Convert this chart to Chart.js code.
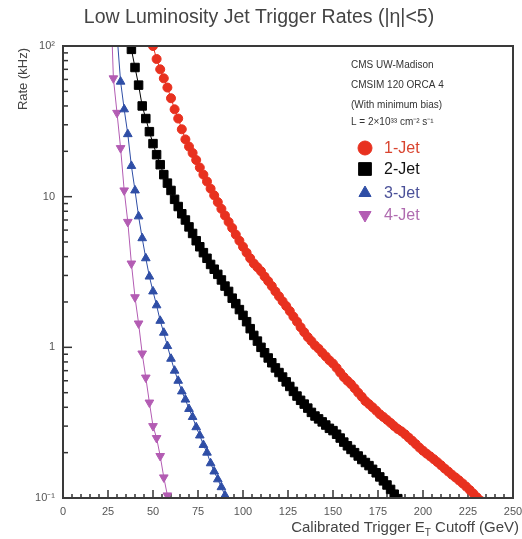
<!DOCTYPE html>
<html><head><meta charset="utf-8">
<script src="https://cdn.jsdelivr.net/npm/chart.js@4.4.1/dist/chart.umd.min.js"></script>
<style>html,body{margin:0;padding:0;background:#fff;}#wrap{width:522px;height:539px;}</style>
</head><body><div id="wrap"><canvas id="c" width="522" height="539"></canvas></div>
<script>
const titleText = 'Low Luminosity Jet Trigger Rates (|\u03B7|<5)';
const yAxisTitle = 'Rate (kHz)';
const xAxisTitleParts = ['Calibrated Trigger E', 'T', ' Cutoff (GeV)'];
const seriesNames = ['1-Jet', '2-Jet', '3-Jet', '4-Jet'];
const infoLines = ['CMS UW-Madison', 'CMSIM 120 ORCA 4', '(With minimum bias)', 'L = 2\u00D710\u00B3\u00B3 cm\u207B\u00B2 s\u207B\u00B9'];
const xTickValues = [0, 25, 50, 75, 100, 125, 150, 175, 200, 225, 250];
const yTickValues = [0.1, 1, 10, 100];
const yTickLabels = ['10\u207B\u00B9', '1', '10', '10\u00B2'];

const jet1Et = [50,52,54,56,58,60,62,64,66,68,70,72,74,76,78,80,82,84,86,88,90,92,94,96,98,100,102,104,106,108,110,112,114,116,118,120,122,124,126,128,130,132,134,136,138,140,142,144,146,148,150,152,154,156,158,160,162,164,166,168,170,172,174,176,178,180,182,184,186,188,190,192,194,196,198,200,202,204,206,208,210,212,214,216,218,220,222,224,226,228,230,232];
const jet1Rate = [100,82,70,61,53,45,38,33,28,24,21.5,19.5,17.5,15.6,14.0,12.6,11.3,10.2,9.2,8.3,7.5,6.8,6.2,5.6,5.1,4.65,4.25,3.9,3.6,3.4,3.2,2.95,2.75,2.55,2.35,2.18,2.02,1.88,1.74,1.6,1.48,1.36,1.26,1.17,1.1,1.03,0.98,0.92,0.87,0.82,0.78,0.73,0.68,0.635,0.60,0.57,0.535,0.50,0.47,0.44,0.42,0.40,0.38,0.36,0.345,0.33,0.315,0.30,0.287,0.277,0.265,0.252,0.24,0.228,0.216,0.206,0.197,0.189,0.181,0.173,0.165,0.157,0.150,0.143,0.137,0.131,0.125,0.119,0.113,0.107,0.101,0.096];

const jet2Et = [36,38,40,42,44,46,48,50,52,54,56,58,60,62,64,66,68,70,72,74,76,78,80,82,84,86,88,90,92,94,96,98,100,102,104,106,108,110,112,114,116,118,120,122,124,126,128,130,132,134,136,138,140,142,144,146,148,150,152,154,156,158,160,162,164,166,168,170,172,174,176,178,180,182,184,186];
const jet2Rate = [135,95,72,55,40,33,27,22.5,19,16.3,14,12.3,11,9.6,8.6,7.7,7.0,6.3,5.7,5.1,4.65,4.25,3.9,3.55,3.3,3.05,2.8,2.55,2.35,2.12,1.95,1.78,1.63,1.48,1.33,1.2,1.1,1.0,0.92,0.85,0.79,0.73,0.68,0.635,0.59,0.55,0.51,0.475,0.445,0.42,0.395,0.37,0.35,0.335,0.32,0.305,0.29,0.28,0.265,0.25,0.235,0.222,0.21,0.2,0.19,0.18,0.172,0.164,0.155,0.147,0.138,0.13,0.122,0.114,0.106,0.099];

const jet3Et = [30,32,34,36,38,40,42,44,46,48,50,52,54,56,58,60,62,64,66,68,70,72,74,76,78,80,82,84,86,88,90,92];
const jet3Rate = [120,58,38,26,16,11,7.4,5.3,3.9,2.95,2.35,1.9,1.5,1.25,1.02,0.84,0.70,0.60,0.51,0.45,0.39,0.345,0.295,0.26,0.225,0.2,0.17,0.15,0.133,0.118,0.104,0.093];

const jet4Et = [26,28,30,32,34,36,38,40,42,44,46,48,50,52,54,56,58];
const jet4Rate = [300,61,36,21,11,6.8,3.6,2.15,1.44,0.91,0.63,0.43,0.30,0.25,0.19,0.137,0.104];

const seriesColors = ['#e8311f', '#000000', '#2f4ea6', '#b35cb3'];
const legendTextColors = ['#d9442f', '#111111', '#4b5199', '#b06cb0'];
const pointStyles = ['circle', 'rect', 'triangle', 'triangle'];
const pointRotations = [0, 0, 0, 180];
const pointRadii = [4.5, 6, 5, 5];

function pts(xs, ys) { return xs.map((x, i) => ({ x: x, y: ys[i] })); }
const seriesData = [pts(jet1Et, jet1Rate), pts(jet2Et, jet2Rate), pts(jet3Et, jet3Rate), pts(jet4Et, jet4Rate)];

const FONT = "'Liberation Sans', Arial, sans-serif";

const decor = {
  id: 'decor',
  beforeDatasetsDraw(chart) {
    const ctx = chart.ctx, xa = chart.scales.x, ya = chart.scales.y;
    const { left, right, top, bottom } = chart.chartArea;
    ctx.save();
    ctx.strokeStyle = '#333';
    ctx.lineWidth = 1.5;
    for (let i = 0; i < yTickValues.length; i++) {
      const d = yTickValues[i];
      const yp = ya.getPixelForValue(d);
      ctx.beginPath(); ctx.moveTo(left, yp); ctx.lineTo(left + 9, yp); ctx.stroke();
      if (i < yTickValues.length - 1) {
        for (let m = 2; m <= 9; m++) {
          const y2 = ya.getPixelForValue(d * m);
          ctx.beginPath(); ctx.moveTo(left, y2); ctx.lineTo(left + 5, y2); ctx.stroke();
        }
      }
    }
    for (let i = 0; i < xTickValues.length; i++) {
      const v = xTickValues[i];
      const xp = xa.getPixelForValue(v);
      ctx.beginPath(); ctx.moveTo(xp, bottom); ctx.lineTo(xp, bottom - 8); ctx.stroke();
      if (i < xTickValues.length - 1) {
        const step = (xTickValues[i + 1] - v) / 5;
        for (let k = 1; k < 5; k++) {
          const x2 = xa.getPixelForValue(v + k * step);
          ctx.beginPath(); ctx.moveTo(x2, bottom); ctx.lineTo(x2, bottom - 4); ctx.stroke();
        }
      }
    }
    ctx.restore();
  },
  afterDraw(chart) {
    const ctx = chart.ctx;
    const { left, right, top, bottom } = chart.chartArea;
    ctx.save();
    ctx.strokeStyle = '#3a3a3a';
    ctx.lineWidth = 2;
    ctx.strokeRect(left, top, right - left, bottom - top);
    ctx.fillStyle = '#444';
    ctx.font = '19.5px ' + FONT;
    ctx.textAlign = 'center'; ctx.textBaseline = 'middle';
    ctx.fillText(titleText, 259, 18);
    ctx.save();
    ctx.translate(23, 48);
    ctx.rotate(-Math.PI / 2);
    ctx.font = '13px ' + FONT;
    ctx.fillStyle = '#444';
    ctx.textAlign = 'right'; ctx.textBaseline = 'middle';
    ctx.fillText(yAxisTitle, 0, 0);
    ctx.restore();
    const big = '15px ' + FONT, small = '10px ' + FONT;
    ctx.fillStyle = '#444';
    ctx.textAlign = 'left'; ctx.textBaseline = 'alphabetic';
    ctx.font = big; const w0 = ctx.measureText(xAxisTitleParts[0]).width;
    ctx.font = small; const w1 = ctx.measureText(xAxisTitleParts[1]).width;
    ctx.font = big; const w2 = ctx.measureText(xAxisTitleParts[2]).width;
    let xs = 519 - (w0 + w1 + w2);
    const base = 532;
    ctx.font = big; ctx.fillText(xAxisTitleParts[0], xs, base); xs += w0;
    ctx.font = small; ctx.fillText(xAxisTitleParts[1], xs, base + 4); xs += w1;
    ctx.font = big; ctx.fillText(xAxisTitleParts[2], xs, base);
    ctx.fillStyle = '#333';
    ctx.font = '10px ' + FONT;
    ctx.textBaseline = 'middle';
    const infoY = [65, 85, 105, 122];
    infoLines.forEach((t, i) => ctx.fillText(t, 351, infoY[i]));
    const legY = [148, 169, 193, 215];
    chart.data.datasets.forEach((ds, i) => {
      ctx.fillStyle = seriesColors[i];
      ctx.strokeStyle = seriesColors[i];
      ctx.lineWidth = 1;
      Chart.helpers.drawPoint(ctx, { pointStyle: pointStyles[i], rotation: pointRotations[i], radius: i === 1 ? 9 : 7, borderWidth: 1 }, 365, legY[i]);
      ctx.fillStyle = legendTextColors[i];
      ctx.font = '16px ' + FONT;
      ctx.fillText(ds.label, 384, legY[i] + 1);
    });
    ctx.restore();
  }
};

new Chart(document.getElementById('c'), {
  type: 'line',
  data: {
    datasets: seriesData.map((d, i) => ({
      label: seriesNames[i],
      data: d,
      borderColor: seriesColors[i],
      backgroundColor: seriesColors[i],
      borderWidth: 1,
      pointStyle: pointStyles[i],
      pointRotation: pointRotations[i],
      pointRadius: pointRadii[i],
      pointBorderWidth: 1,
      pointBackgroundColor: seriesColors[i],
      pointBorderColor: seriesColors[i],
      tension: 0,
      fill: false
    }))
  },
  options: {
    responsive: false,
    animation: false,
    devicePixelRatio: 1,
    layout: { padding: { top: 46, right: 9, left: 0, bottom: 0 } },
    plugins: { legend: { display: false }, tooltip: { enabled: false }, title: { display: false } },
    scales: {
      x: {
        type: 'linear', min: 0, max: 250,
        afterBuildTicks: s => { s.ticks = xTickValues.map(v => ({ value: v })); },
        afterFit: s => { s.height = 41; s.paddingLeft = 0; s.paddingRight = 0; },
        ticks: { color: '#555', font: { family: FONT, size: 11 }, padding: 7, maxRotation: 0, autoSkip: false },
        grid: { display: false, drawTicks: false },
        border: { display: false }
      },
      y: {
        type: 'logarithmic', min: 0.1, max: 100,
        afterBuildTicks: s => { s.ticks = yTickValues.map(v => ({ value: v })); },
        afterFit: s => { s.width = 63; s.paddingTop = 0; s.paddingBottom = 0; },
        ticks: { color: '#555', font: { family: FONT, size: 11 }, padding: 8, autoSkip: false,
          callback: (v, i) => yTickLabels[i] },
        grid: { display: false, drawTicks: false },
        border: { display: false }
      }
    }
  },
  plugins: [decor]
});
</script>
</body></html>
